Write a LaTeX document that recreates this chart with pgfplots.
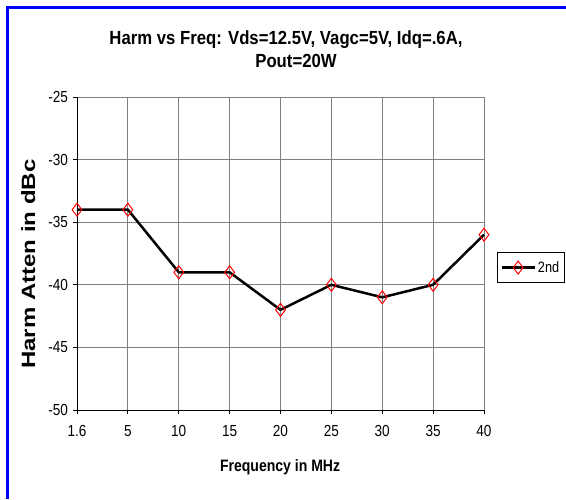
\documentclass[border=0pt]{standalone}
\usepackage{fontspec}
\setmainfont{Liberation Sans}
\newfontfamily\cond{Liberation Sans}[FakeStretch=0.85]
\newfontfamily\tfont{Liberation Sans}[FakeStretch=0.88]
\usepackage{pgfplots}
\pgfplotsset{compat=1.18}
\begin{document}
\begin{tikzpicture}[x=1pt,y=1pt]
\useasboundingbox (0,0) rectangle (566,499);
\fill[white] (0,0) rectangle (566,499);
\draw[color={rgb,255:red,0;green,0;blue,255}, line width=3pt] (7.3,0) -- (7.3,491.5) -- (566,491.5);
\node[anchor=base, font=\tfont\bfseries\fontsize{19}{21}\selectfont] at (286,454) {Harm vs Freq: Vds=12.5V, Vagc=5V, Idq=.6A,};
\node[anchor=base, font=\tfont\bfseries\fontsize{19}{21}\selectfont] at (296,431) {Pout=20W};
\begin{axis}[
  at={(77pt,89pt)}, anchor=south west,
  scale only axis, width=407pt, height=313pt,
  xmin=0, xmax=8, ymin=-50, ymax=-25,
  xtick={0,1,2,3,4,5,6,7,8},
  xticklabels={1.6,5,10,15,20,25,30,35,40},
  ytick={-50,-45,-40,-35,-30,-25},
  yticklabels={-50,-45,-40,-35,-30,-25},
  axis x line=bottom, axis y line=left,
  axis line style={-, black, line width=0.8pt},
  tick align=outside, major tick length=4pt,
  tick style={black, line width=0.8pt},
  grid=major, major grid style={black!50, line width=0.8pt},
  ticklabel style={font=\cond\fontsize{16}{18}\selectfont},
  xticklabel style={yshift=-8pt},
  yticklabel style={xshift=-1.5pt},
  xlabel={\cond\bfseries\fontsize{16.5}{18}\selectfont Frequency in MHz},
  xlabel style={at={(axis description cs:0.499,-0.197)}, anchor=base},
  ylabel={\scalebox{1}[0.8]{\bfseries\fontsize{24}{26}\selectfont Harm Atten in dBc}},
  ylabel style={at={(axis description cs:-0.12,0.466)}, anchor=center},
  legend style={at={(axis description cs:1.032,0.455)}, anchor=west,
    draw=black, line width=0.8pt, inner xsep=3pt, inner ysep=6.5pt,
    font=\cond\fontsize{15}{16}\selectfont},
  legend image code/.code={\draw[mark repeat=2,mark phase=2,#1] plot coordinates {(0pt,0pt)(16.5pt,0pt)(33pt,0pt)};},
  clip=false,
]
\addplot[black, line width=2.5pt, mark=diamond, mark size=6.5pt,
  mark options={draw=red, fill=white, line width=1pt, solid}]
  coordinates {(0,-34) (1,-34) (2,-39) (3,-39) (4,-42) (5,-40) (6,-41) (7,-40) (8,-36)};
\addlegendentry{2nd}
\end{axis}
\end{tikzpicture}
\end{document}
